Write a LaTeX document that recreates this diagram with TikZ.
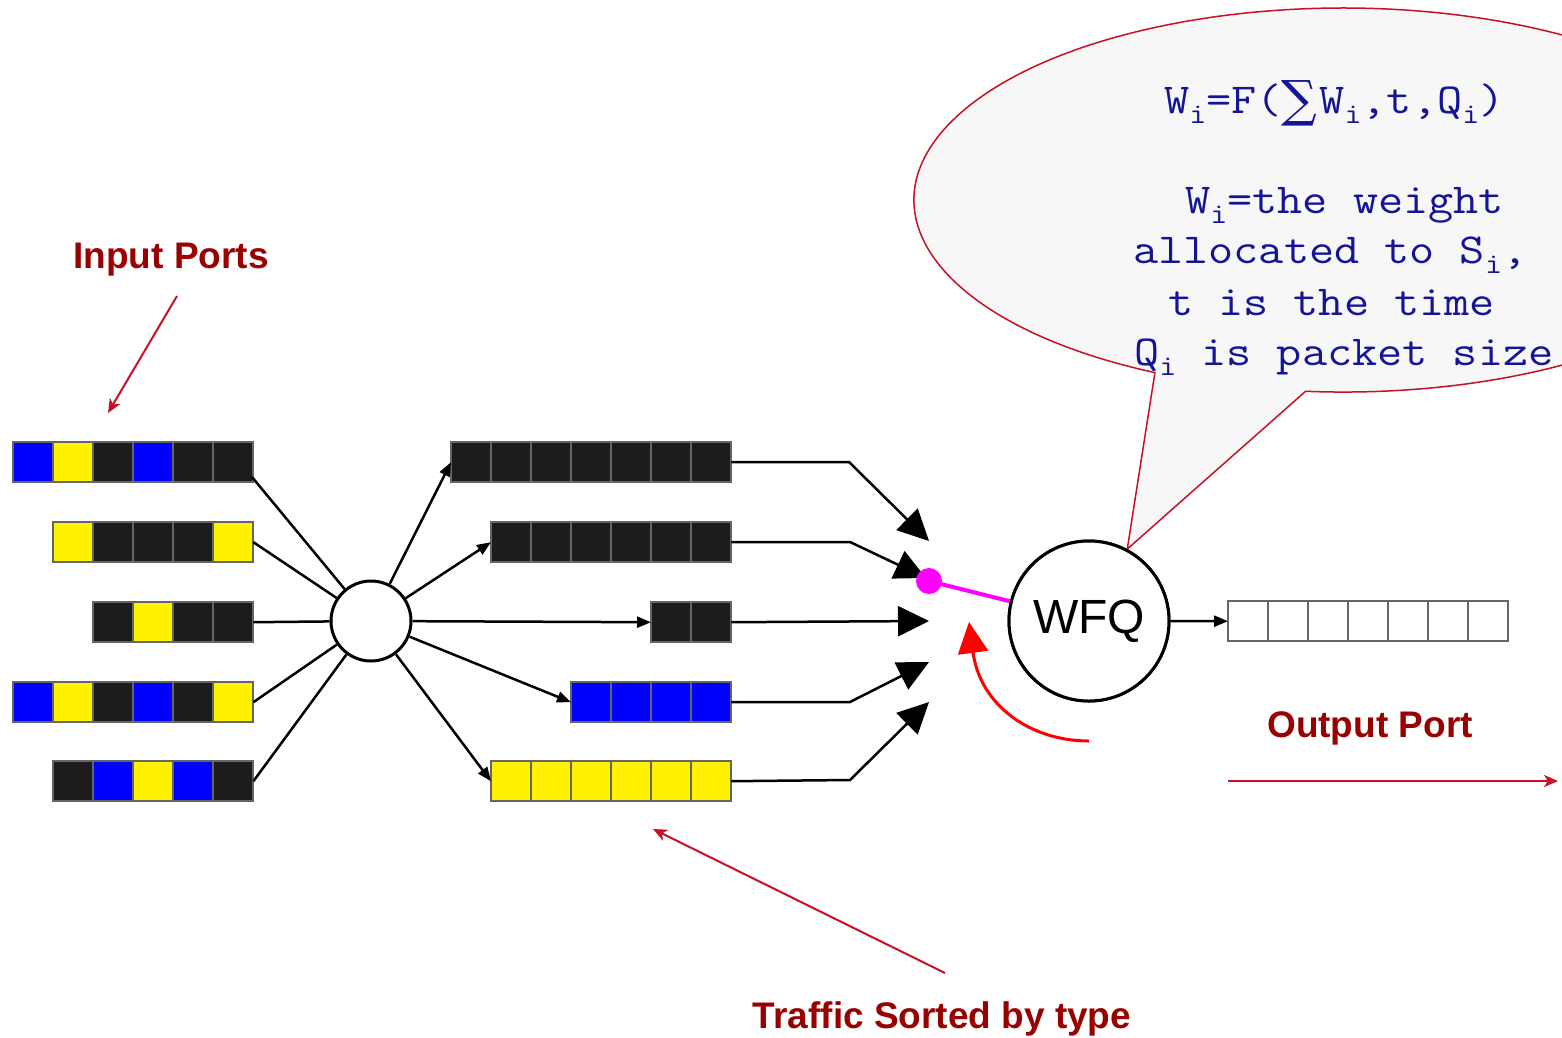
\documentclass[tikz,border=0pt]{standalone}
\usepackage{fontspec}
\setmainfont{Liberation Sans}
\newfontfamily\monofont{Latin Modern Mono}[FakeStretch=1.143]
\newfontfamily\sumfont{DejaVu Serif}
\usetikzlibrary{arrows.meta}
\definecolor{cellblk}{HTML}{1C1C1C}
\definecolor{cellgray}{HTML}{666666}
\definecolor{lblred}{HTML}{990000}
\definecolor{arrred}{RGB}{200,16,38}
\definecolor{navytxt}{RGB}{20,20,150}
\definecolor{callfill}{HTML}{F7F7F7}
\definecolor{dotmag}{HTML}{FF00FF}
\definecolor{curvered}{HTML}{FF0000}
\newcommand{\sbi}{\raisebox{-10pt}{\fontsize{29}{29}\selectfont i}}
\newcommand{\sumsym}{\raisebox{-3pt}{\sumfont\fontsize{50}{50}\selectfont ∑}\hspace{2pt}}
\newcommand{\drawcells}[3]{%
  \foreach \c [count=\k from 0] in {#3} {\filldraw[cell, fill=\c] ({#1+40*\k},#2) rectangle ++(40,40);}%
}
\tikzset{
  cell/.style={draw=cellgray, line width=1.5pt},
  qnode/.style={inner sep=0pt, minimum height=40pt, anchor=north west},
  conn/.style={line width=2.5pt, draw=black},
  smalltip/.style={-{Triangle[length=14pt,width=11pt]}},
  bigtip/.style={-{Triangle[length=31pt,width=30pt]}},
  redarrow/.style={draw=arrred, line width=2pt, -{Stealth[length=14pt,width=12pt,inset=4pt]}},
  lbl/.style={text=lblred, font=\fontsize{37}{37}\selectfont\bfseries, inner sep=0pt, anchor=base},
  calltxt/.style={text=navytxt, font=\monofont\fontsize{42.7}{42.7}\selectfont, inner sep=0pt, anchor=base west},
}
\begin{document}
\begin{tikzpicture}[x=1pt,y=-1pt]
\useasboundingbox (0,0) rectangle (1562,1037);
\clip (0,0) rectangle (1562,1037);
\fill[white] (0,0) rectangle (1562,1037);

% ---------- queues ----------
\drawcells{13}{442}{blue,yellow,cellblk,blue,cellblk,cellblk}
\drawcells{53}{522}{yellow,cellblk,cellblk,cellblk,yellow}
\drawcells{93}{602}{cellblk,yellow,cellblk,cellblk}
\drawcells{13}{682}{blue,yellow,cellblk,blue,cellblk,yellow}
\drawcells{53}{761}{cellblk,blue,yellow,blue,cellblk}
\node[qnode, minimum width=240pt] (in1) at (13,442) {};
\node[qnode, minimum width=200pt] (in2) at (53,522) {};
\node[qnode, minimum width=160pt] (in3) at (93,602) {};
\node[qnode, minimum width=240pt] (in4) at (13,682) {};
\node[qnode, minimum width=200pt] (in5) at (53,761) {};

\drawcells{451}{442}{cellblk,cellblk,cellblk,cellblk,cellblk,cellblk,cellblk}
\drawcells{491}{522}{cellblk,cellblk,cellblk,cellblk,cellblk,cellblk}
\drawcells{651}{602}{cellblk,cellblk}
\drawcells{571}{682}{blue,blue,blue,blue}
\drawcells{491}{761}{yellow,yellow,yellow,yellow,yellow,yellow}
\node[qnode, minimum width=280pt] (mq1) at (451,442) {};
\node[qnode, minimum width=240pt] (mq2) at (491,522) {};
\node[qnode, minimum width=80pt]  (mq3) at (651,602) {};
\node[qnode, minimum width=160pt] (mq4) at (571,682) {};
\node[qnode, minimum width=240pt] (mq5) at (491,761) {};

\drawcells{1228}{601}{white,white,white,white,white,white,white}
\node[qnode, minimum width=280pt] (outq) at (1228,601) {};

% ---------- callout ----------
\coordinate (cbl) at (1154.9,372.6);
\node[circle, draw=black, line width=3pt, minimum size=160pt, inner sep=0pt] (wfqpos) at (1089,621) {};
\filldraw[draw=arrred, line width=1.5pt, fill=callfill]
  (wfqpos.62) -- (cbl) arc[start angle=116, end angle=455, x radius=429, y radius=192] -- cycle;

\node[calltxt] (f1) at (1164,113) {W\sbi=F(\sumsym W\sbi,t,Q\sbi)};
\node[calltxt] (f2) at (1185,213) {W\sbi=the weight};
\node[calltxt] (f3) at (1133,263) {allocated to S\sbi,};
\node[calltxt] (f4) at (1168,315) {t is the time};
\node[calltxt] (f5) at (1134,365) {Q\sbi{} is packet size};

% ---------- hub and WFQ ----------
\node[circle, draw=black, fill=white, line width=3pt, minimum size=80pt, inner sep=0pt] (hub) at (371,621) {};
\node[circle, draw=black, fill=white, line width=3pt, minimum size=160pt, inner sep=0pt,
      font=\fontsize{48}{48}\selectfont] (wfq) at (1089,621) {WFQ};

% ---------- input connectors ----------
\coordinate (in1o) at (252,477);
\draw[conn] (in1o) -- (hub);
\draw[conn] (in2.east) -- (hub);
\draw[conn] (in3.east) -- (hub);
\draw[conn] (in4.east) -- (hub);
\draw[conn] (in5.east) -- (hub);

% ---------- hub to sorted queues ----------
\draw[conn, smalltip] (hub) -- (mq1.west);
\draw[conn, smalltip] (hub) -- (mq2.west);
\draw[conn, smalltip] (hub) -- (mq3.west);
\draw[conn, smalltip] (hub) -- (mq4.west);
\draw[conn, smalltip] (hub) -- (mq5.west);

% ---------- sorted queues to scheduler ----------
\coordinate (t1) at (929,541);
\coordinate (t2) at (926,578);
\coordinate (t3) at (929,621);
\coordinate (t4) at (929,662);
\coordinate (t5) at (929,702);
\draw[conn, bigtip] (mq1.east) -- (849,462) -- (t1);
\draw[conn, bigtip] (mq2.east) -- (850,542) -- (t2);
\draw[conn, bigtip] (mq3.east) -- (t3);
\draw[conn, bigtip] (mq4.east) -- (850,702) -- (t4);
\draw[conn, bigtip] (mq5.east) -- (850,780) -- (t5);

% ---------- magenta pointer ----------
\node[circle, fill=dotmag, minimum size=26pt, inner sep=0pt] (dot) at (929,581) {};
\draw[dotmag, line width=4pt] (dot.center) -- (wfq);

% ---------- output ----------
\draw[conn, smalltip] (wfq) -- (outq.west);

% ---------- red curved arrow ----------
\coordinate (cs) at (1089,741);
\coordinate (ce) at (969,622);
\draw[curvered, line width=3pt, -{Triangle[length=31pt,width=30pt]}]
  (cs) .. controls (1030,741) and (980,705) .. (ce);

% ---------- labels ----------
\node[lbl] (lin) at (171,268) {Input Ports};
\node[lbl] (lout) at (1370,737) {Output Port};
\node[lbl] (ltr) at (942,1028) {Traffic Sorted by type};

\coordinate (a1s) at (177,296);
\coordinate (a1e) at (108,413);
\draw[redarrow] (a1s) -- (a1e);
\coordinate (a2s) at (945,973);
\coordinate (a2e) at (653,829);
\draw[redarrow] (a2s) -- (a2e);
\coordinate (a3s) at (1228,781);
\coordinate (a3e) at (1558,781);
\draw[redarrow] (a3s) -- (a3e);
\end{tikzpicture}
\end{document}
